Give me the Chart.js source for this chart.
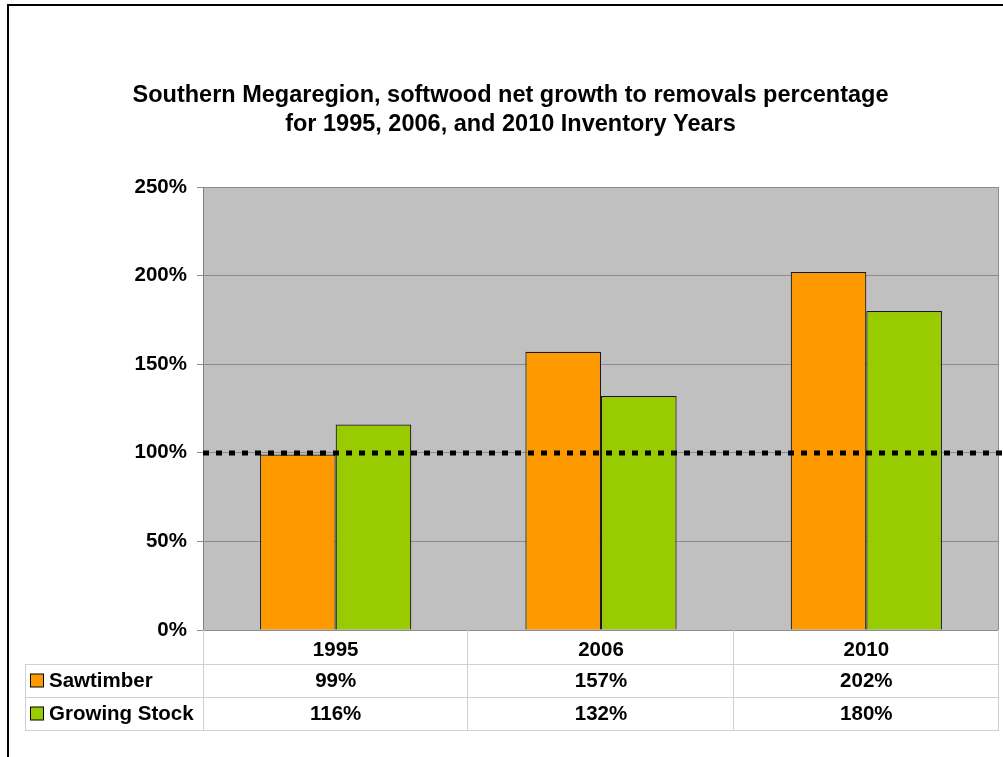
<!DOCTYPE html>
<html>
<head>
<meta charset="utf-8">
<script src="https://cdn.jsdelivr.net/npm/chart.js@4/dist/chart.umd.min.js"></script>
<style>
  html, body { margin: 0; padding: 0; background: #fff; }
  #wrap { width: 1003px; height: 757px; }
</style>
</head>
<body>
<div id="wrap"><canvas id="myChart" width="1003" height="757"></canvas></div>
<script>
// data
var years = ['1995', '2006', '2010'];
var sawtimber = [99, 157, 202];
var growingStock = [116, 132, 180];
var seriesNames = ['Sawtimber', 'Growing Stock'];
var seriesColors = ['#FF9900', '#99CC00'];
var yTicks = [0, 50, 100, 150, 200, 250];
var referenceLine = 100;

var FONT = "Arial, 'Liberation Sans', sans-serif";

// gray plot box, outer frame, dotted 100% line and the data table underneath
var tablePlugin = {
    id: 'tablePlugin',
    beforeDraw: function(chart) {
        var ctx = chart.ctx, a = chart.chartArea;
        ctx.save();
        ctx.fillStyle = '#fff';
        ctx.fillRect(0, 0, chart.width, chart.height);
        ctx.strokeStyle = '#000';
        ctx.lineWidth = 2;
        ctx.strokeRect(8, 5, chart.width + 20, chart.height + 20);
        ctx.fillStyle = '#C0C0C0';
        ctx.fillRect(a.left, a.top, a.right - a.left, a.bottom - a.top);
        ctx.strokeStyle = '#8c8c8c';
        ctx.lineWidth = 1;
        ctx.strokeRect(a.left + 0.5, a.top + 0.5, a.right - a.left - 1, a.bottom - a.top);
        ctx.restore();
    },
    afterDatasetsDraw: function(chart) {
        var ctx = chart.ctx, a = chart.chartArea;
        var y = Math.round(chart.scales.y.getPixelForValue(referenceLine));
        ctx.save();
        ctx.strokeStyle = '#000';
        ctx.lineWidth = 5;
        ctx.setLineDash([6, 7]);
        ctx.beginPath();
        ctx.moveTo(a.left, y);
        ctx.lineTo(chart.width, y);
        ctx.stroke();
        ctx.restore();
    },
    afterDraw: function(chart) {
        var ctx = chart.ctx, a = chart.chartArea, x = chart.scales.x;
        var headH = 34, rowH = 33, tableLeft = 25;
        var half = (a.right - a.left) / years.length / 2;
        var top = a.bottom + headH;
        var bottom = top + rowH * chart.data.datasets.length;

        ctx.save();
        ctx.strokeStyle = '#d0d0d0';
        ctx.lineWidth = 1;
        ctx.beginPath();
        // column separators
        ctx.moveTo(a.left + 0.5, a.bottom);
        ctx.lineTo(a.left + 0.5, bottom);
        for (var i = 0; i < years.length; i++) {
            var xr = Math.round(x.getPixelForValue(i) + half) - 0.5;
            ctx.moveTo(xr, a.bottom);
            ctx.lineTo(xr, bottom);
        }
        ctx.moveTo(tableLeft + 0.5, top);
        ctx.lineTo(tableLeft + 0.5, bottom);
        // row lines
        for (var r = 0; r <= chart.data.datasets.length; r++) {
            var yy = Math.round(top + r * rowH) + 0.5;
            ctx.moveTo(tableLeft, yy);
            ctx.lineTo(a.right, yy);
        }
        ctx.stroke();

        ctx.font = 'bold 20.5px ' + FONT;
        ctx.textBaseline = 'middle';
        chart.data.datasets.forEach(function(ds, r) {
            var cy = top + r * rowH + rowH / 2 + 1;
            // legend key
            ctx.fillStyle = ds.backgroundColor;
            ctx.fillRect(tableLeft + 5.5, cy - 7.5, 13, 13);
            ctx.strokeStyle = '#000';
            ctx.strokeRect(tableLeft + 5.5, cy - 7.5, 13, 13);
            ctx.fillStyle = '#000';
            ctx.textAlign = 'left';
            ctx.fillText(ds.label, tableLeft + 24, cy);
            ctx.textAlign = 'center';
            ds.data.forEach(function(v, i) {
                ctx.fillText(v + '%', x.getPixelForValue(i), cy);
            });
        });
        ctx.restore();
    }
};

var ctx = document.getElementById('myChart').getContext('2d');
var myChart = new Chart(ctx, {
    type: 'bar',
    data: {
        labels: years,
        datasets: [{
            label: seriesNames[0],
            data: sawtimber,
            backgroundColor: seriesColors[0],
            borderColor: '#1a1a1a',
            borderWidth: 1.2
        }, {
            label: seriesNames[1],
            data: growingStock,
            backgroundColor: seriesColors[1],
            borderColor: '#1a1a1a',
            borderWidth: 1.2
        }]
    },
    plugins: [tablePlugin],
    options: {
        responsive: false,
        animation: false,
        layout: {
            padding: { left: 22, right: 4, top: 81, bottom: 93 }
        },
        datasets: {
            bar: { categoryPercentage: 0.57, barPercentage: 1.0 }
        },
        plugins: {
            legend: { display: false },
            tooltip: { enabled: false },
            title: {
                display: true,
                text: ['Southern Megaregion, softwood net growth to removals percentage',
                       'for 1995, 2006, and 2010 Inventory Years'],
                color: '#000',
                font: { family: FONT, size: 23.5, weight: 'bold', lineHeight: 29 / 23.5 },
                padding: { top: 0, bottom: 48 }
            }
        },
        scales: {
            x: {
                grid: { display: false },
                border: { display: false },
                ticks: {
                    color: '#000',
                    padding: 0,
                    font: { family: FONT, size: 20.5, weight: 'bold' }
                },
                afterFit: function(scale) { scale.height = 34; }
            },
            y: {
                min: yTicks[0],
                max: yTicks[yTicks.length - 1],
                afterBuildTicks: function(scale) {
                    scale.ticks = yTicks.map(function(v) { return { value: v }; });
                },
                grid: { color: '#8c8c8c', tickLength: 6 },
                border: { color: '#808080' },
                ticks: {
                    color: '#000',
                    padding: 10,
                    font: { family: FONT, size: 20.5, weight: 'bold' },
                    callback: function(v) { return v + '%'; }
                },
                afterFit: function(scale) { scale.width = 181; }
            }
        }
    }
});
</script>
</body>
</html>
